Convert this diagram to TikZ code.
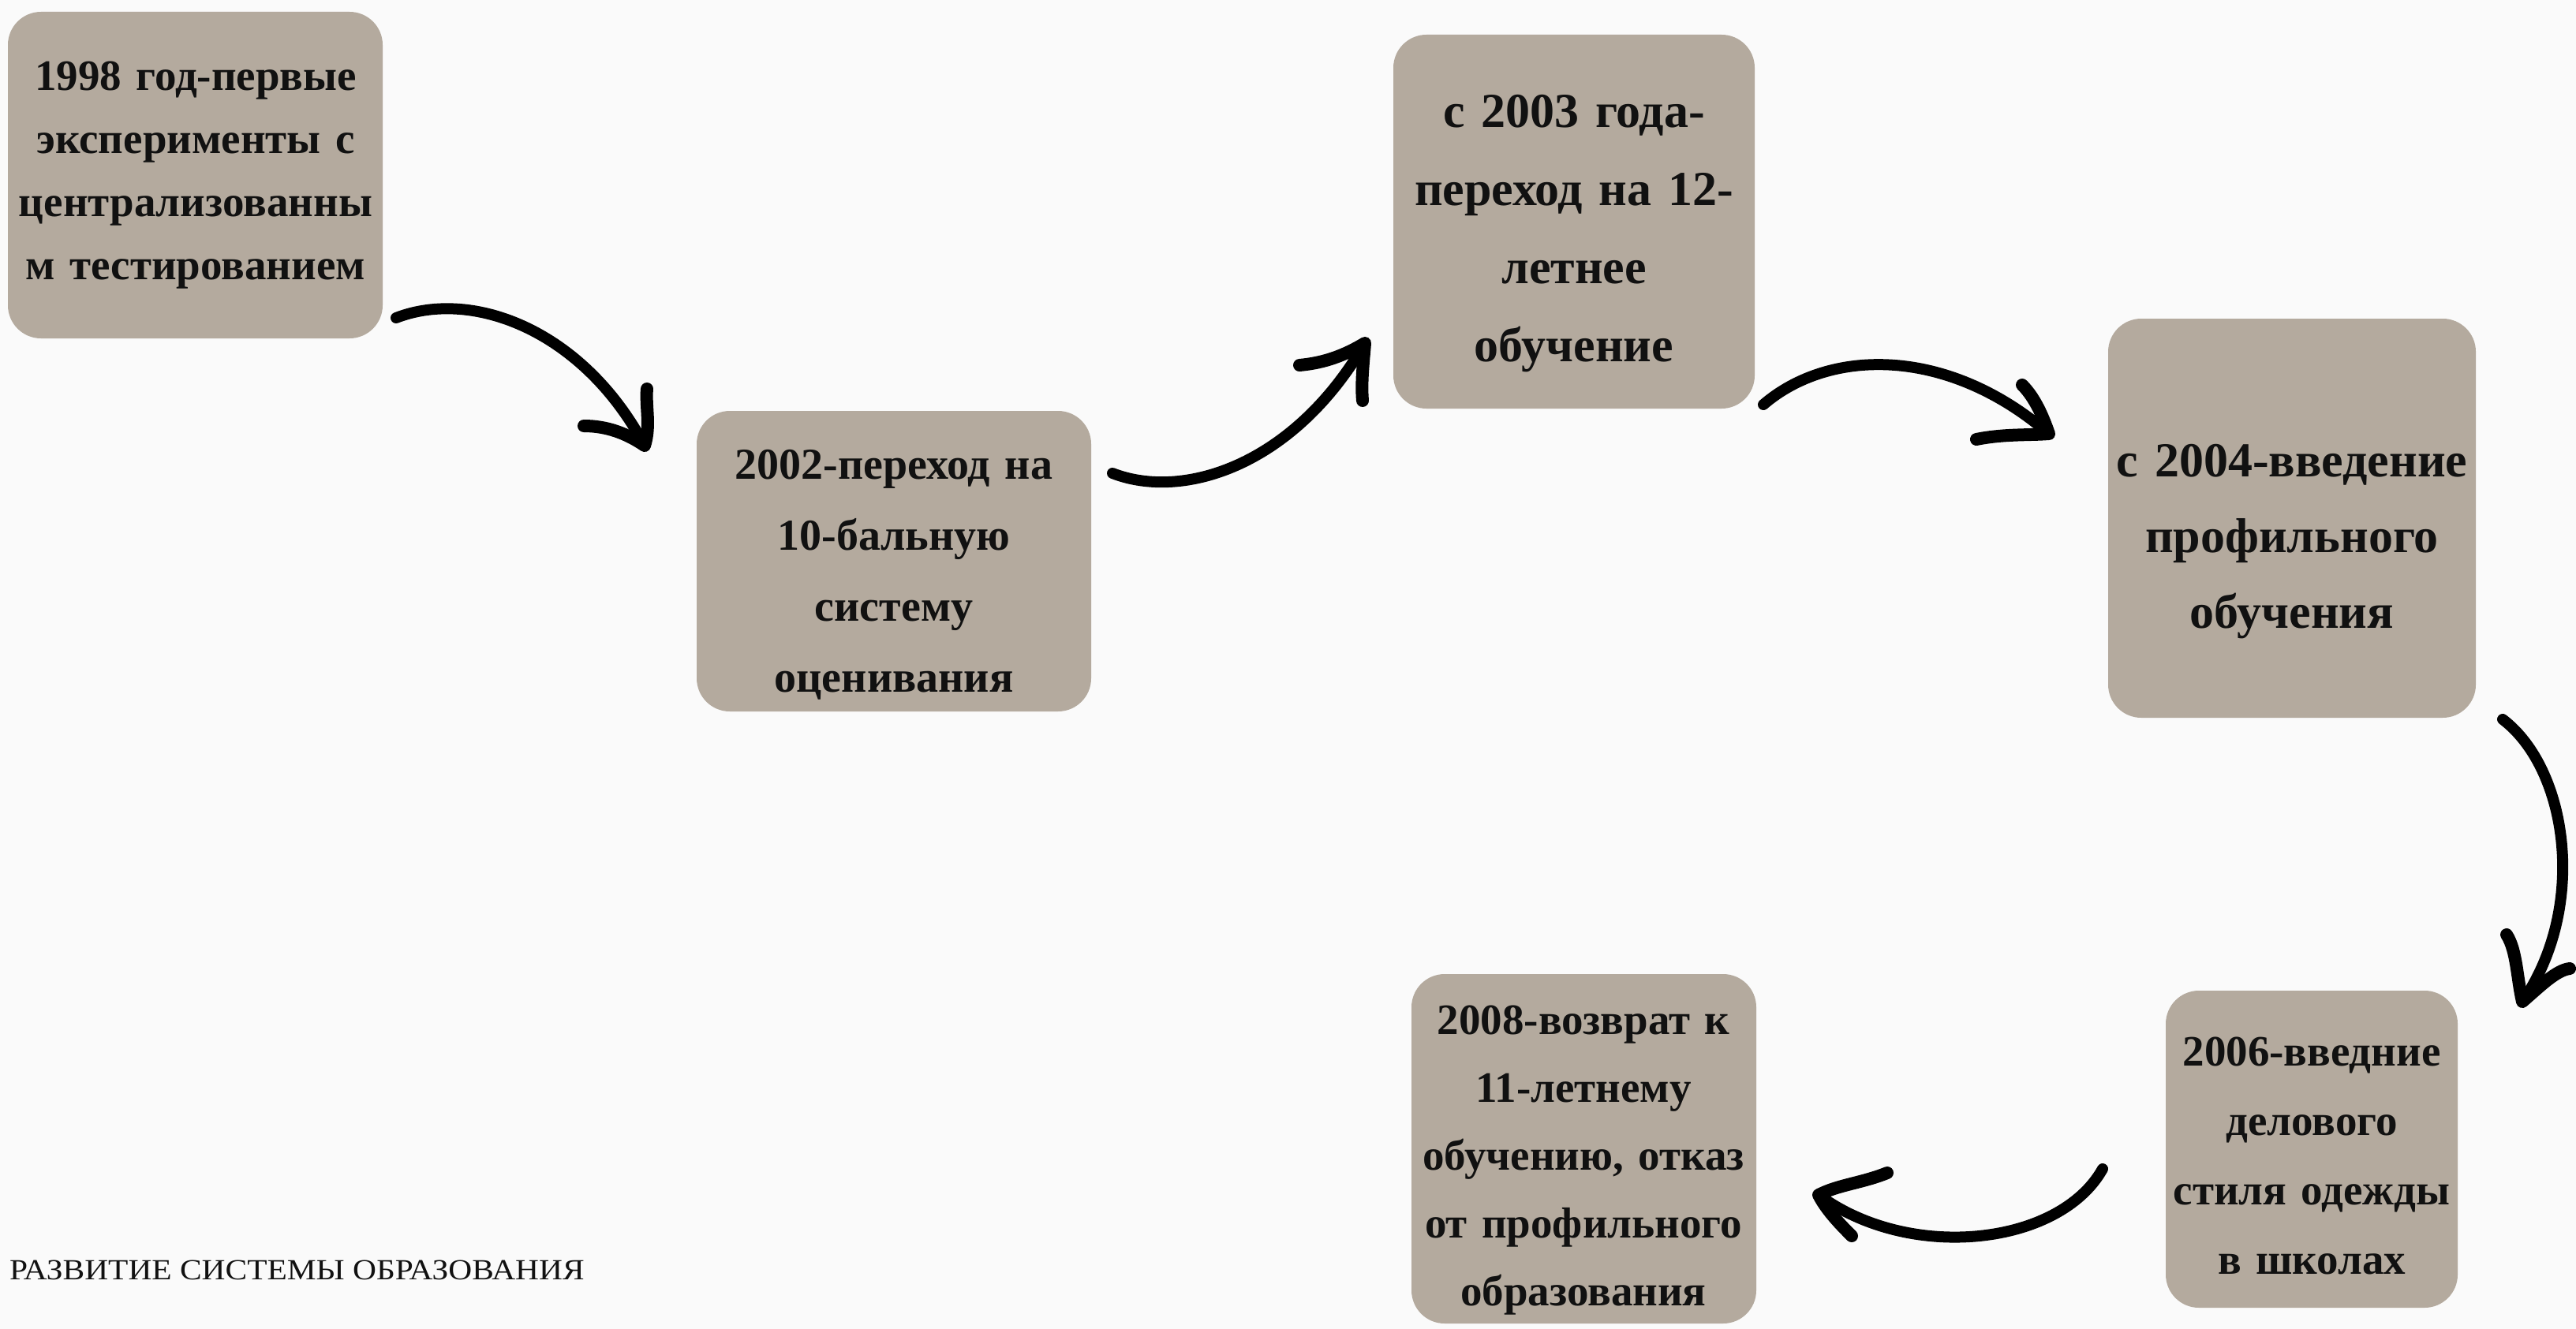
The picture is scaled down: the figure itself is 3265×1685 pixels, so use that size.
\documentclass[tikz,border=0pt]{standalone}
\usepackage{fontspec}
\setmainfont{Liberation Serif}
\newfontfamily\boxfont{Liberation Serif}
\newfontfamily\titlefont[FakeStretch=1.12]{Liberation Serif}
\definecolor{bgc}{HTML}{FAFAFA}
\definecolor{boxc}{HTML}{B4AA9E}
\definecolor{inkc}{HTML}{111111}
\begin{document}
\begin{tikzpicture}[x=1pt,y=-1pt,
  stepbox/.style={fill=boxc, rounded corners=42pt, inner sep=0pt},
  boxtext/.style={align=center, text=inkc, font=\boxfont\bfseries\fontsize{#1}{#1}\selectfont, inner sep=0pt},
  shaft/.style={draw=black, line width=14pt, line cap=round},
  barb/.style={draw=black, line width=16pt, line cap=round, line join=round},
]
\fill[bgc] (0,0) rectangle (3265,1685);
\useasboundingbox (0,0) rectangle (3265,1685);

% boxes
\path[stepbox] (10,15) rectangle (485,429);
\path[stepbox] (883,521) rectangle (1383,902);
\path[stepbox] (1766,44) rectangle (2224,518);
\path[stepbox] (2672,404) rectangle (3138,910);
\path[stepbox] (2745,1256) rectangle (3115,1658);
\path[stepbox] (1789,1235) rectangle (2226,1678);

% texts
\node[boxtext=55, text width=470pt, execute at begin node={\baselineskip=80pt}] (t1) at (248,222)
  {1998 год-первые\\эксперименты с\\централизованны\\м тестированием};
\node[boxtext=56, text width=490pt, execute at begin node={\baselineskip=90pt}] (t2) at (1133,729)
  {2002-переход на\\10-бальную\\систему\\оценивания};
\node[boxtext=62, text width=450pt, execute at begin node={\baselineskip=99pt}] (t3) at (1995,296)
  {с 2003 года-\\переход на 12-\\летнее\\обучение};
\node[boxtext=62, text width=460pt, execute at begin node={\baselineskip=96pt}] (t4) at (2905,687)
  {с 2004-введение\\профильного\\обучения};
\node[boxtext=55, text width=370pt, execute at begin node={\baselineskip=88pt}] (t5) at (2930,1465)
  {2006-введние\\делового\\стиля одежды\\в школах};
\node[boxtext=55, text width=437pt, execute at begin node={\baselineskip=86pt}] (t6) at (2007,1471)
  {2008-возврат к\\11-летнему\\обучению, отказ\\от профильного\\образования};

\node[anchor=west, inner sep=0pt, text=inkc, font=\titlefont\fontsize{37}{37}\selectfont] (title) at (12,1610)
  {РАЗВИТИЕ СИСТЕМЫ ОБРАЗОВАНИЯ};

% arrow 1
\coordinate (a1s) at (502,403); \coordinate (a1t) at (817,565);
\coordinate (a1b1) at (740,540); \coordinate (a1b2) at (820,493);
\draw[shaft] (a1s) .. controls (600,365) and (740,420) .. (a1t);
\draw[barb] (a1b1) .. controls (770,540) and (795,550) .. (a1t) .. controls (825,540) and (818,515) .. (a1b2);

% arrow 2
\coordinate (a2s) at (1410,600); \coordinate (a2t) at (1730,435);
\coordinate (a2b1) at (1647,463); \coordinate (a2b2) at (1727,508);
\draw[shaft] (a2s) .. controls (1500,635) and (1640,590) .. (a2t);
\draw[barb] (a2b1) .. controls (1680,460) and (1705,450) .. (a2t) .. controls (1728,460) and (1725,485) .. (a2b2);

% arrow 3
\coordinate (a3s) at (2235,513); \coordinate (a3t) at (2597,550);
\coordinate (a3b1) at (2563,488); \coordinate (a3b2) at (2505,557);
\draw[shaft] (a3s) .. controls (2320,440) and (2470,440) .. (a3t);
\draw[barb] (a3b1) .. controls (2580,505) and (2590,530) .. (a3t) .. controls (2570,552) and (2540,550) .. (a3b2);

% arrow 4
\coordinate (a4s) at (3172,912); \coordinate (a4t) at (3197,1270);
\coordinate (a4b1) at (3177,1185); \coordinate (a4b2) at (3257,1228);
\draw[shaft] (a4s) .. controls (3255,975) and (3280,1150) .. (a4t);
\draw[barb] (a4b1) .. controls (3190,1205) and (3190,1240) .. (a4t) .. controls (3220,1250) and (3240,1230) .. (a4b2);

% arrow 5
\coordinate (a5s) at (2665,1482); \coordinate (a5t) at (2305,1515);
\coordinate (a5b1) at (2392,1487); \coordinate (a5b2) at (2347,1567);
\draw[shaft] (a5s) .. controls (2610,1580) and (2420,1600) .. (a5t);
\draw[barb] (a5b1) .. controls (2360,1500) and (2330,1502) .. (a5t) .. controls (2315,1535) and (2335,1555) .. (a5b2);
\end{tikzpicture}
\end{document}
